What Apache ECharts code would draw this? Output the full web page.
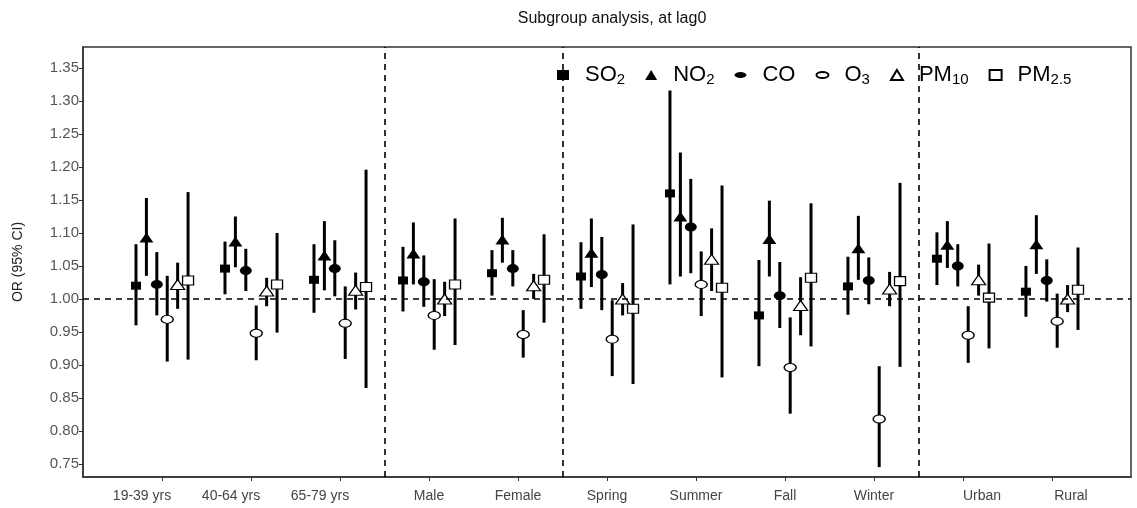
<!DOCTYPE html>
<html>
<head>
<meta charset="utf-8">
<script src="https://cdn.jsdelivr.net/npm/echarts@6/dist/echarts.min.js"></script>
<style>
  html, body { margin: 0; padding: 0; background: #fff; }
  #chart { width: 1137px; height: 508px; }
</style>
</head>
<body>
<div id="chart"></div>
<script>
const categories = ['19-39 yrs', '40-64 yrs', '65-79 yrs', 'Male', 'Female', 'Spring', 'Summer', 'Fall', 'Winter', 'Urban', 'Rural']
const pollutants = ['SO2', 'NO2', 'CO', 'O3', 'PM10', 'PM2.5']
const yTicks = [0.75, 0.8, 0.85, 0.9, 0.95, 1.0, 1.05, 1.1, 1.15, 1.2, 1.25, 1.3, 1.35]
const dividers = [2.5, 4.5, 8.5]

// odds ratio, lower and upper 95% CI
const so2Est = [1.020, 1.046, 1.029, 1.028, 1.039, 1.034, 1.160, 0.975, 1.019, 1.061, 1.011]
const so2Lo = [0.960, 1.007, 0.979, 0.981, 1.005, 0.985, 1.022, 0.898, 0.976, 1.021, 0.973]
const so2Hi = [1.083, 1.087, 1.083, 1.079, 1.074, 1.086, 1.316, 1.059, 1.064, 1.101, 1.050]

const no2Est = [1.093, 1.087, 1.066, 1.069, 1.090, 1.070, 1.125, 1.091, 1.077, 1.082, 1.083]
const no2Lo = [1.035, 1.048, 1.013, 1.022, 1.055, 1.018, 1.034, 1.034, 1.029, 1.047, 1.038]
const no2Hi = [1.153, 1.125, 1.118, 1.116, 1.123, 1.122, 1.222, 1.149, 1.126, 1.118, 1.127]

const coEst = [1.022, 1.043, 1.046, 1.026, 1.046, 1.037, 1.109, 1.005, 1.028, 1.050, 1.028]
const coLo = [0.975, 1.012, 1.004, 0.988, 1.019, 0.983, 1.039, 0.956, 0.992, 1.019, 0.996]
const coHi = [1.071, 1.076, 1.089, 1.066, 1.074, 1.094, 1.182, 1.056, 1.063, 1.083, 1.060]

const o3Est = [0.969, 0.948, 0.963, 0.975, 0.946, 0.939, 1.022, 0.896, 0.818, 0.945, 0.966]
const o3Lo = [0.905, 0.907, 0.909, 0.923, 0.911, 0.883, 0.974, 0.826, 0.745, 0.903, 0.926]
const o3Hi = [1.035, 0.990, 1.019, 1.030, 0.983, 0.998, 1.072, 0.972, 0.898, 0.989, 1.008]

const pm10Est = [1.022, 1.012, 1.013, 1.000, 1.020, 1.000, 1.060, 0.990, 1.015, 1.029, 1.000]
const pm10Lo = [0.985, 0.989, 0.984, 0.974, 1.000, 0.975, 1.012, 0.945, 0.989, 1.005, 0.980]
const pm10Hi = [1.055, 1.032, 1.040, 1.026, 1.038, 1.024, 1.107, 1.033, 1.041, 1.052, 1.021]

const pm25Est = [1.028, 1.022, 1.018, 1.022, 1.029, 0.985, 1.017, 1.032, 1.027, 1.002, 1.014]
const pm25Lo = [0.908, 0.949, 0.865, 0.930, 0.964, 0.871, 0.881, 0.928, 0.897, 0.925, 0.953]
const pm25Hi = [1.162, 1.100, 1.196, 1.122, 1.098, 1.113, 1.172, 1.145, 1.176, 1.084, 1.078]

const estimates = [so2Est, no2Est, coEst, o3Est, pm10Est, pm25Est]
const lows = [so2Lo, no2Lo, coLo, o3Lo, pm10Lo, pm25Lo]
const highs = [so2Hi, no2Hi, coHi, o3Hi, pm10Hi, pm25Hi]

const ellipse = 'path://M0,5 A10,5 0 1,0 20,5 A10,5 0 1,0 0,5 Z'
const markerStyle = [
  { symbol: 'rect', size: [10, 8], fill: '#000' },
  { symbol: 'triangle', size: [14, 10], fill: '#000' },
  { symbol: ellipse, size: [12, 9], fill: '#000' },
  { symbol: ellipse, size: [12, 8], fill: '#fff' },
  { symbol: 'triangle', size: [14, 10], fill: '#fff' },
  { symbol: 'rect', size: [11, 9], fill: '#fff' }
]
const dodge = 0.117

const legendText = {
  'SO2': '{a|SO}{b|2}',
  'NO2': '{a|NO}{b|2}',
  'CO': '{a|CO}',
  'O3': '{a|O}{b|3}',
  'PM10': '{a|PM}{b|10}',
  'PM2.5': '{a|PM}{b|2.5}'
}

function labelFor(v) {
  const i = Math.round(v)
  if (i <= 2) return '{l|' + categories[i] + '}'
  if (i >= 9) return '{r|' + categories[i] + '}'
  return categories[i]
}

const series = []
pollutants.forEach(function(p, k) {
  const off = (k - 2.5) * dodge
  const pts = categories.map(function(c, i) { return [i + off, estimates[k][i]] })
  const bars = categories.map(function(c, i) { return [i + off, lows[k][i], highs[k][i]] })
  series.push({
    name: p + ' CI',
    type: 'custom',
    z: 2,
    silent: true,
    encode: { x: 0, y: [1, 2] },
    data: bars,
    renderItem: function(params, api) {
      const a = api.coord([api.value(0), api.value(1)])
      const b = api.coord([api.value(0), api.value(2)])
      return {
        type: 'line',
        shape: { x1: a[0], y1: a[1], x2: b[0], y2: b[1] },
        style: { stroke: '#000', lineWidth: 3 }
      }
    }
  })
  series.push({
    name: p,
    type: 'scatter',
    z: 3,
    symbol: markerStyle[k].symbol,
    symbolSize: markerStyle[k].size,
    itemStyle: { color: markerStyle[k].fill, borderColor: '#000', borderWidth: markerStyle[k].fill === '#fff' ? 1.2 : 0, opacity: 1 },
    data: pts
  })
})

// reference lines
series.push({
  name: 'ref',
  type: 'line',
  data: [],
  z: 1,
  markLine: {
    silent: true,
    symbol: 'none',
    animation: false,
    label: { show: false },
    lineStyle: { color: '#000', type: [6, 5], width: 1.6 },
    data: [{ yAxis: 1 }].concat(dividers.map(function(d) { return { xAxis: d } }))
  }
})

const chart = echarts.init(document.getElementById('chart'))
chart.setOption({
  animation: false,
  backgroundColor: '#fff',
  textStyle: { fontFamily: 'Liberation Sans, Arial, sans-serif' },
  title: {
    text: 'Subgroup analysis, at lag0',
    left: 607,
    textAlign: 'center',
    top: 6,
    textStyle: { fontSize: 16, fontWeight: 'normal', color: '#111' }
  },
  legend: {
    data: pollutants,
    left: 552,
    top: 59,
    itemWidth: 12,
    itemHeight: 10,
    itemGap: 20,
    selectedMode: false,
    formatter: function(name) { return legendText[name] },
    textStyle: {
      color: '#000',
      rich: {
        a: { fontSize: 22, lineHeight: 24, verticalAlign: 'middle', color: '#000', padding: [0, 0, 0, 11] },
        b: { fontSize: 15, lineHeight: 8, verticalAlign: 'bottom', color: '#000' }
      }
    }
  },
  grid: {
    left: 83, right: 6, top: 47, bottom: 31,
    show: true, borderColor: '#333', borderWidth: 1.5
  },
  xAxis: {
    type: 'value',
    min: -0.888,
    max: 10.888,
    splitLine: { show: false },
    axisLine: { show: true, onZero: false, lineStyle: { color: '#333', width: 1.5 } },
    axisTick: { show: true, length: 4, customValues: categories.map(function(c, i) { return i }), lineStyle: { color: '#333' } },
    axisLabel: {
      customValues: categories.map(function(c, i) { return i }),
      formatter: labelFor,
      color: '#444',
      fontSize: 14,
      margin: 12,
      rich: {
        l: { fontSize: 14, color: '#444', padding: [0, 40, 0, 0] },
        r: { fontSize: 14, color: '#444', padding: [0, 0, 0, 38] }
      }
    }
  },
  yAxis: {
    type: 'value',
    min: 0.73,
    max: 1.382,
    name: 'OR (95% CI)',
    nameLocation: 'middle',
    nameGap: 58,
    nameTextStyle: { fontSize: 14, color: '#222' },
    splitLine: { show: false },
    axisLine: { show: true, onZero: false, lineStyle: { color: '#333', width: 1.5 } },
    axisTick: { show: true, length: 4, customValues: yTicks, lineStyle: { color: '#333' } },
    axisLabel: {
      customValues: yTicks,
      formatter: function(v) { return v.toFixed(2) },
      color: '#555',
      fontSize: 15,
      margin: 4
    }
  },
  series: series
})
</script>
</body>
</html>
